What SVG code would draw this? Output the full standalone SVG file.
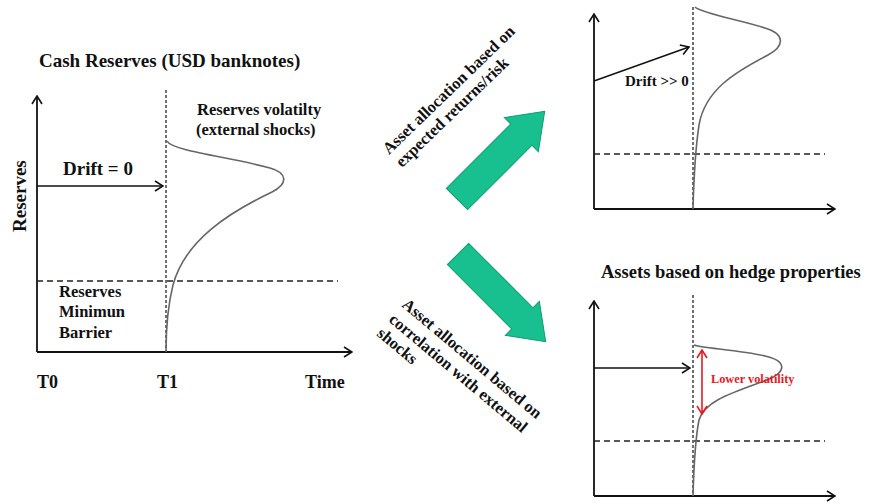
<svg xmlns="http://www.w3.org/2000/svg" width="875" height="504" viewBox="0 0 875 504">
<style>
  .t { font-family: "Liberation Serif", "Times New Roman", serif; font-weight: bold; fill: #111; }
  .axis { stroke: #111; stroke-width: 1.8; fill: none; }
  .arr { stroke: #111; stroke-width: 1.5; fill: none; }
  .vdash { stroke: #222; stroke-width: 1.3; stroke-dasharray: 3 2; fill: none; }
  .hdash { stroke: #222; stroke-width: 1.3; stroke-dasharray: 6 4; fill: none; }
  .curve { stroke: #666; stroke-width: 1.6; fill: none; }
  .green { fill: #19c08f; stroke: #0f9c70; stroke-width: 1; }
  .red { stroke: #e8191e; stroke-width: 1.6; fill: none; }
</style>
<defs>
  <marker id="chev" viewBox="0 0 10 12" refX="9" refY="6" markerWidth="10" markerHeight="12" markerUnits="userSpaceOnUse" orient="auto">
    <path d="M1,1 L9,6 L1,11" fill="none" stroke="#111" stroke-width="1.6"/>
  </marker>
  <marker id="chevR" viewBox="0 0 10 12" refX="9" refY="6" markerWidth="10" markerHeight="12" markerUnits="userSpaceOnUse" orient="auto-start-reverse">
    <path d="M1,1 L9,6 L1,11" fill="none" stroke="#e8191e" stroke-width="1.6"/>
  </marker>
  <path id="bigArrow" d="M0,-15 L91,-15 L91,-24 L124,0 L91,24 L91,15 L0,15 Z"/>
</defs>

<g id="left-panel">
  <text class="t" x="39" y="67" font-size="19">Cash Reserves (USD banknotes)</text>
  <text class="t" font-size="19" transform="translate(26,232) rotate(-90)">Reserves</text>
  <line class="axis" x1="37" y1="352" x2="37" y2="96" marker-end="url(#chev)"/>
  <line class="axis" x1="37" y1="352" x2="352" y2="352" marker-end="url(#chev)"/>
  <line class="vdash" x1="166" y1="90" x2="166" y2="352"/>
  <line class="hdash" x1="37" y1="281" x2="338" y2="281"/>
  <line class="arr" x1="37" y1="186" x2="163" y2="186" marker-end="url(#chev)"/>
  <text class="t" x="63" y="175" font-size="19">Drift = 0</text>
  <path class="curve" d="M167,141 C172,151 230,157 270,168 C288,173 288,184 272,192 C230,212 185,240 173,285 C168,305 166,330 166,352"/>
  <text class="t" x="197" y="115" font-size="16.5">Reserves volatilty</text>
  <text class="t" x="196" y="135" font-size="16.5">(external shocks)</text>
  <text class="t" x="59" y="297" font-size="16.5">Reserves</text>
  <text class="t" x="59" y="317" font-size="16.5">Minimun</text>
  <text class="t" x="59" y="338" font-size="16.5">Barrier</text>
  <text class="t" x="37" y="388" font-size="18">T0</text>
  <text class="t" x="157" y="388" font-size="18">T1</text>
  <text class="t" x="305" y="388" font-size="18">Time</text>
</g>

<g id="upper-arrow">
  <use href="#bigArrow" class="green" transform="translate(457,199) rotate(-45)"/>
  <text class="t" font-size="16.5" transform="translate(389,155) rotate(-44)">Asset allocation  based on</text>
  <text class="t" font-size="16.5" transform="translate(402,168) rotate(-44)">expected returns/risk</text>
</g>

<g id="lower-arrow">
  <use href="#bigArrow" class="green" transform="translate(458,254) rotate(45)"/>
  <text class="t" font-size="16.5" transform="translate(401,306) rotate(40)">Asset allocation based on</text>
  <text class="t" font-size="16.5" transform="translate(388,321) rotate(40)">correlation with external</text>
  <text class="t" font-size="16.5" transform="translate(376,335) rotate(40)">shocks</text>
</g>

<g id="top-right-panel">
  <line class="axis" x1="594" y1="209" x2="594" y2="14" marker-end="url(#chev)"/>
  <line class="axis" x1="594" y1="209" x2="835" y2="209" marker-end="url(#chev)"/>
  <line class="vdash" x1="693" y1="7" x2="693" y2="209"/>
  <line class="hdash" x1="594" y1="154" x2="825" y2="154"/>
  <line class="arr" x1="594" y1="81" x2="689" y2="47" marker-end="url(#chev)"/>
  <text class="t" x="625" y="86" font-size="15">Drift &gt;&gt; 0</text>
  <path class="curve" d="M695,7 C700,13 740,20 765,28 C785,34 785,46 768,55 C735,72 705,90 699,125 C696,145 694,170 693,209"/>
</g>

<g id="bottom-right-panel">
  <text class="t" x="601" y="278" font-size="18.5">Assets based on hedge properties</text>
  <line class="axis" x1="594" y1="496" x2="594" y2="301" marker-end="url(#chev)"/>
  <line class="axis" x1="594" y1="496" x2="835" y2="496" marker-end="url(#chev)"/>
  <line class="vdash" x1="693" y1="295" x2="693" y2="496"/>
  <line class="hdash" x1="594" y1="441" x2="825" y2="441"/>
  <line class="arr" x1="594" y1="368" x2="690" y2="368" marker-end="url(#chev)"/>
  <path class="curve" d="M694,345 C700,348 740,350 765,356 C787,361 787,372 767,380 C735,392 705,400 699,420 C696,435 694,460 693,496"/>
  <line class="red" x1="702" y1="350" x2="702" y2="414" marker-start="url(#chevR)" marker-end="url(#chevR)"/>
  <text x="711" y="383" font-size="12.3" font-family="Liberation Serif, serif" font-weight="bold" fill="#e8191e">Lower volatility</text>
</g>
</svg>
